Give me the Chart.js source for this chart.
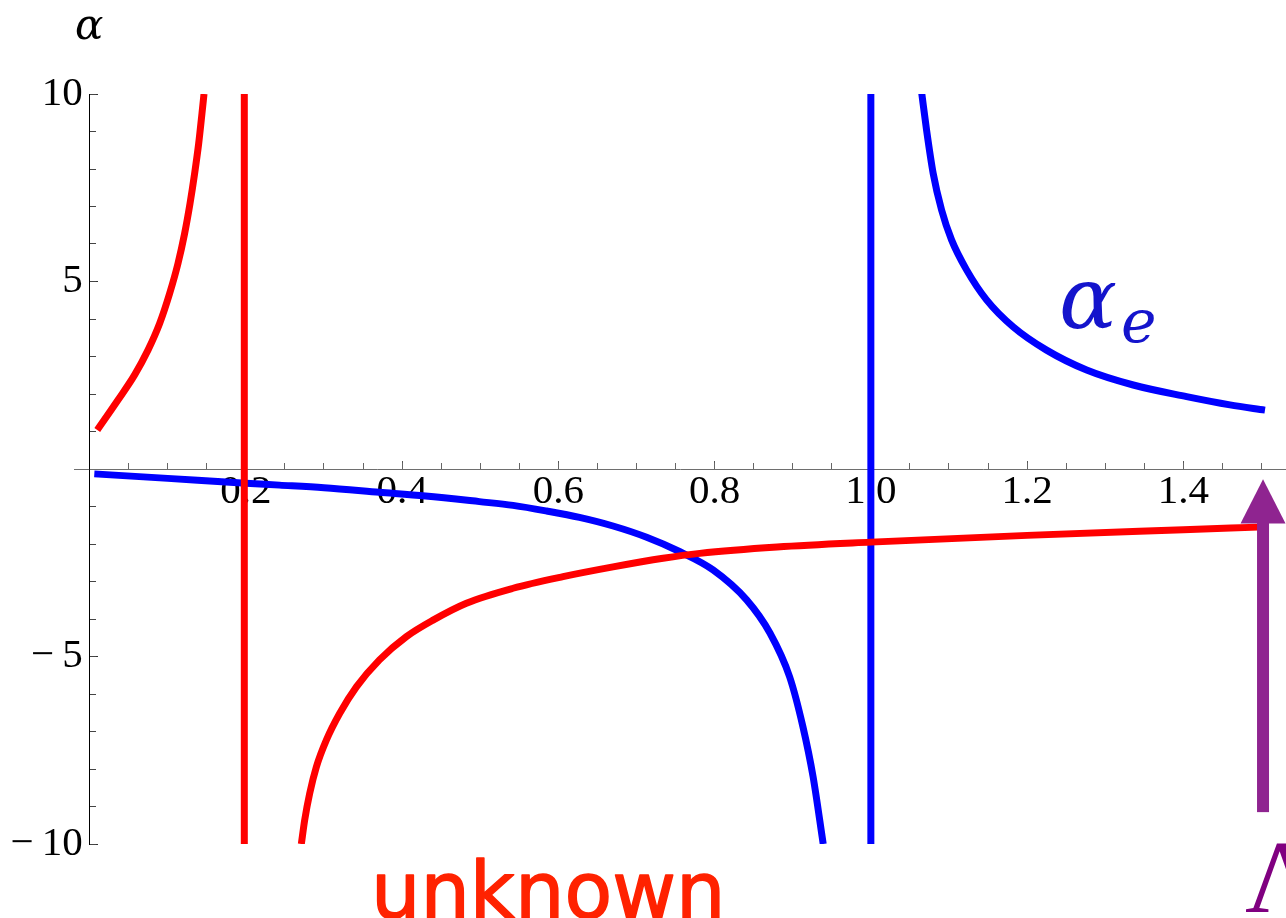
<!DOCTYPE html>
<html>
<head>
<meta charset="utf-8">
<script src="https://cdn.jsdelivr.net/npm/chart.js@4.4.1/dist/chart.umd.min.js"></script>
<style>
  html, body { margin: 0; padding: 0; background: #fff; }
  #plot { display: block; }
</style>
</head>
<body>
<canvas id="plot" width="1286" height="918"></canvas>
<script>
//
// Data
//

// red curve, branch left of the pole
var redLeftX = [0.0098, 0.0363, 0.0576, 0.0747, 0.0896, 0.1024, 0.1131, 0.1216, 0.1285, 0.1344, 0.1396, 0.1438, 0.1464];
var redLeftY = [1.04, 1.84, 2.51, 3.17, 3.88, 4.68, 5.48, 6.28, 7.08, 7.88, 8.68, 9.48, 10.0];

// red curve, branch right of the pole
var redRightX = [0.271, 0.2753, 0.2817, 0.2903, 0.303, 0.320, 0.3415, 0.371, 0.4055, 0.4396, 0.4823, 0.542, 0.606, 0.670, 0.734, 0.781, 0.880, 1.000, 1.200, 1.400, 1.496];
var redRightY = [-10.0, -9.36, -8.65, -7.94, -7.23, -6.52, -5.81, -5.09, -4.47, -4.03, -3.58, -3.18, -2.87, -2.61, -2.38, -2.25, -2.08, -1.95, -1.77, -1.62, -1.55];

// red vertical jump
var redPoleX = [0.198, 0.198];
var redPoleY = [-10, 10];

// blue curve (alpha_e), branch below 1
var blueLeftX = [0.006, 0.100, 0.200, 0.243, 0.300, 0.371, 0.430, 0.499, 0.542, 0.585, 0.627, 0.670, 0.713, 0.755, 0.798, 0.841, 0.871, 0.896, 0.913, 0.926, 0.939];
var blueLeftY = [-0.13, -0.25, -0.38, -0.43, -0.50, -0.62, -0.72, -0.87, -0.97, -1.12, -1.29, -1.52, -1.82, -2.20, -2.69, -3.49, -4.38, -5.54, -6.87, -8.20, -10.0];

// blue curve, branch above 1
var blueRightX = [1.0649, 1.0713, 1.0798, 1.0905, 1.1033, 1.1225, 1.1481, 1.1822, 1.2249, 1.2762, 1.3359, 1.4042, 1.4597, 1.5045];
var blueRightY = [10.06, 9.04, 7.88, 6.91, 6.11, 5.31, 4.51, 3.79, 3.17, 2.64, 2.24, 1.93, 1.71, 1.57];

// blue vertical jump
var bluePoleX = [1.0, 1.0];
var bluePoleY = [-10, 10];

// axes
var xRange = [-0.02, 1.5314];
var yRange = [-10, 10];
var xMajorStep = 0.2, xMinorStep = 0.05;
var yMajorStep = 5, yMinorStep = 1;

// arrow marking the cutoff
var arrowX = 1.502;
var arrowTipY = -0.27;
var arrowHeadY = -1.45;
var arrowTailY = -9.15;


//
// Helpers
//

function toPoints(xs, ys) {
	return xs.map(function(x, i) { return { x: x, y: ys[i] }; });
}

function curve(xs, ys, color, smooth) {
	return {
		data: toPoints(xs, ys),
		showLine: true,
		borderColor: color,
		borderWidth: 7,
		pointRadius: 0,
		cubicInterpolationMode: smooth ? 'monotone' : 'default',
		tension: 0,
		clip: 0,
		borderCapStyle: 'butt'
	};
}

function xLabel(v) {
	return v > 0.001 ? v.toFixed(1) : '';
}

// trailing six-per-em space keeps the labels off the axis
function yLabel(v) {
	if (v === 0) return '';
	return (v < 0 ? '\u2212\u2009' + Math.abs(v) : String(v)) + '\u2006';
}


//
// Annotations (arrow, labels)
//

var annotations = {
	id: 'annotations',
	afterDatasetsDraw: function(chart) {
		var ctx = chart.ctx;
		var xs = chart.scales.x, ys = chart.scales.y;

		// purple arrow
		var ax = xs.getPixelForValue(arrowX);
		var tip = ys.getPixelForValue(arrowTipY);
		var head = ys.getPixelForValue(arrowHeadY);
		var tail = ys.getPixelForValue(arrowTailY);
		ctx.save();
		ctx.fillStyle = '#8f2490';
		ctx.fillRect(ax - 6, head - 1, 12, tail - head + 1);
		ctx.beginPath();
		ctx.moveTo(ax, tip);
		ctx.lineTo(ax + 22.5, head);
		ctx.lineTo(ax - 22.5, head);
		ctx.closePath();
		ctx.fill();
		ctx.restore();
	},
	afterDraw: function(chart) {
		var ctx = chart.ctx;
		ctx.save();
		ctx.textBaseline = 'alphabetic';
		ctx.textAlign = 'left';

		// axis label
		ctx.fillStyle = '#000';
		ctx.font = 'italic 42px "DejaVu Serif"';
		ctx.fillText('\u03b1', 75, 39);

		// alpha_e
		ctx.fillStyle = '#1414cc';
		ctx.font = 'italic 86px "DejaVu Serif"';
		ctx.fillText('\u03b1', 1059, 328);
		ctx.font = 'italic 60px "DejaVu Serif"';
		ctx.fillText('e', 1121, 342);

		// unknown
		ctx.fillStyle = '#ff2200';
		ctx.strokeStyle = '#ff2200';
		ctx.lineWidth = 1.5;
		ctx.lineJoin = 'round';
		ctx.font = '78px "DejaVu Sans"';
		ctx.fillText('unknown', 371, 918);
		ctx.strokeText('unknown', 371, 918);

		// Lambda
		ctx.fillStyle = '#800080';
		ctx.font = '104px "Liberation Serif"';
		ctx.fillText('\u039b', 1245, 912);
		ctx.restore();
	}
};


//
// Chart
//

Chart.defaults.font.family = '"Liberation Serif", serif';

var tickFont = { family: '"Liberation Serif"', size: 41 };

new Chart(document.getElementById('plot'), {
	type: 'scatter',
	data: {
		datasets: [
			curve(redPoleX, redPoleY, '#ff0000', false),
			curve(redLeftX, redLeftY, '#ff0000', true),
			curve(redRightX, redRightY, '#ff0000', true),
			curve(bluePoleX, bluePoleY, '#0000ff', false),
			curve(blueLeftX, blueLeftY, '#0000ff', true),
			curve(blueRightX, blueRightY, '#0000ff', true)
		]
	},
	options: {
		responsive: false,
		animation: false,
		devicePixelRatio: 1,
		layout: { padding: { left: 74, right: 0, top: 94, bottom: 74 } },
		plugins: {
			legend: { display: false },
			tooltip: { enabled: false }
		},
		scales: {
			x: {
				type: 'linear',
				position: { y: 0 },
				min: xRange[0],
				max: xRange[1],
				ticks: {
					stepSize: xMajorStep,
					includeBounds: false,
					autoSkip: false,
					maxRotation: 0,
					padding: 8,
					color: '#000',
					font: tickFont,
					callback: xLabel
				},
				grid: { drawOnChartArea: false, drawTicks: true, tickLength: -9, tickColor: '#555', tickWidth: 1 },
				border: { display: true, color: '#6e6e6e', width: 1 }
			},
			x2: {
				type: 'linear',
				axis: 'x',
				position: { y: 0 },
				min: xRange[0],
				max: xRange[1],
				ticks: { stepSize: xMinorStep, includeBounds: false, autoSkip: false, display: false },
				grid: { drawOnChartArea: false, drawTicks: true, tickLength: -6, tickColor: '#666', tickWidth: 1 },
				border: { display: false }
			},
			y: {
				type: 'linear',
				position: { x: 0 },
				min: yRange[0],
				max: yRange[1],
				ticks: {
					stepSize: yMajorStep,
					autoSkip: false,
					color: '#000',
					font: tickFont,
					callback: yLabel
				},
				grid: { drawOnChartArea: false, drawTicks: true, tickLength: -9, tickColor: '#333', tickWidth: 1 },
				border: { display: true, color: '#000', width: 1 }
			},
			y2: {
				type: 'linear',
				axis: 'y',
				position: { x: 0 },
				min: yRange[0],
				max: yRange[1],
				ticks: { stepSize: yMinorStep, autoSkip: false, display: false },
				grid: { drawOnChartArea: false, drawTicks: true, tickLength: -6, tickColor: '#444', tickWidth: 1 },
				border: { display: false }
			}
		}
	},
	plugins: [annotations]
});
</script>
</body>
</html>
